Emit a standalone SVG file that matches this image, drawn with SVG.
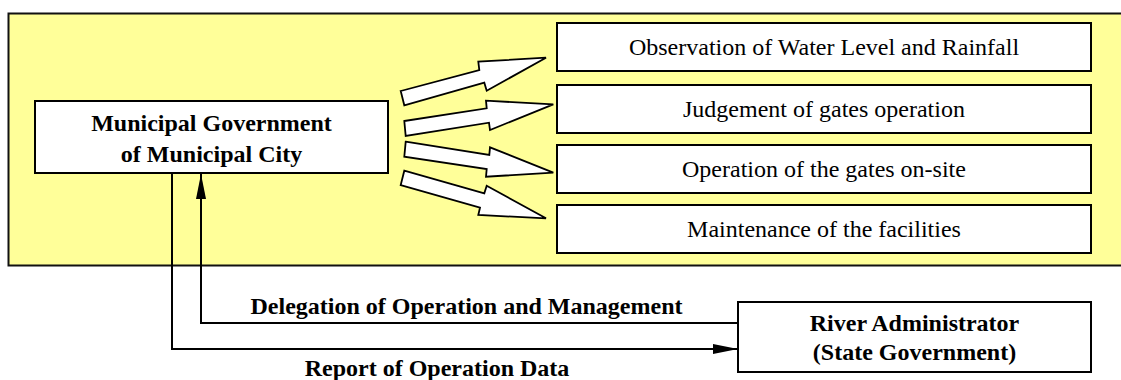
<svg xmlns="http://www.w3.org/2000/svg" width="1121" height="380" viewBox="0 0 1121 380">
<style>
.box{fill:#fff;stroke:#000;stroke-width:2}
.bg{fill:#ffff99;stroke:#111;stroke-width:2}
.blk{fill:#fff;stroke:#000;stroke-width:1.8;stroke-linejoin:miter}
.ln{fill:none;stroke:#000;stroke-width:2}
text{font-family:"Liberation Serif","Times New Roman",serif;font-size:24px;fill:#000;text-anchor:middle}
.b{font-weight:bold}
</style>
<defs>
<marker id="ah" markerUnits="userSpaceOnUse" markerWidth="26" markerHeight="12" refX="25" refY="5" orient="auto">
<path d="M0,0 L25,5 L0,10 z" fill="#000"/>
</marker>
</defs>
<rect class="bg" x="8.5" y="13.5" width="1122" height="252"/>
<g id="municipal">
<rect class="box" x="35" y="101" width="353" height="72"/>
<text class="b" x="211.5" y="131">Municipal Government</text>
<text class="b" x="211.5" y="162">of Municipal City</text>
</g>
<g id="task1">
<rect class="box" x="557" y="23" width="534" height="48"/>
<text x="824" y="55">Observation of Water Level and Rainfall</text>
</g>
<g id="task2">
<rect class="box" x="557" y="85" width="534" height="48"/>
<text x="824" y="117">Judgement of gates operation</text>
</g>
<g id="task3">
<rect class="box" x="557" y="145" width="534" height="48"/>
<text x="824" y="177">Operation of the gates on-site</text>
</g>
<g id="task4">
<rect class="box" x="557" y="205" width="534" height="48"/>
<text x="824" y="237">Maintenance of the facilities</text>
</g>
<g id="river">
<rect class="box" x="738" y="302" width="353" height="70"/>
<text class="b" x="914.5" y="331">River Administrator</text>
<text class="b" x="914.5" y="360">(State Government)</text>
</g>
<g id="connectors">
<polygon class="blk" points="400.7,91 479.3,70 478.3,61.7 546,57.7 486.7,90.7 484.3,82.7 404.3,105.3"/>
<polygon class="blk" points="404.3,121 486.7,108.3 486,100.7 553.3,104.3 490,130 489,122.7 405.7,136"/>
<polygon class="blk" points="405.7,141.7 489.3,155 490,147.3 553.3,172.7 486,176.7 486.7,169 404.3,156.7"/>
<polygon class="blk" points="404.3,170.7 484.3,193.3 486.7,185.7 546,218.3 478.3,215 480,207.7 400.7,185"/>
<polyline class="ln" points="172,173 172,349 738,349" marker-end="url(#ah)"/>
<polyline class="ln" points="738,323 201,323 201,174" marker-end="url(#ah)"/>
<text class="b" x="466.5" y="314">Delegation of Operation and Management</text>
<text class="b" x="437" y="376">Report of Operation Data</text>
</g>
</svg>
